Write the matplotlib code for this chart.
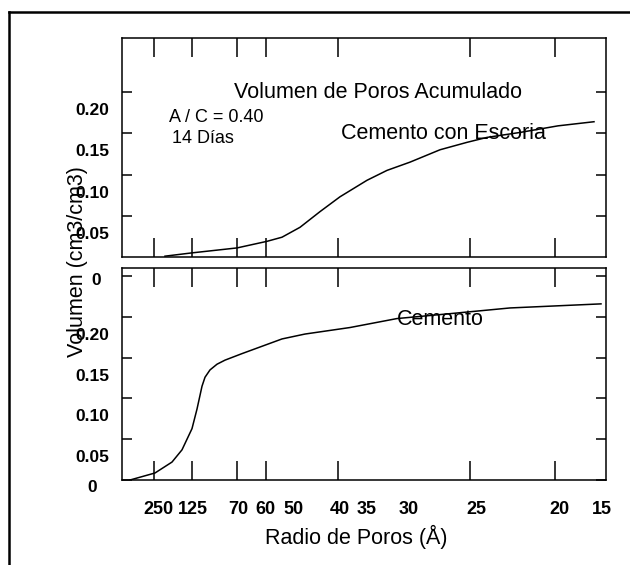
import matplotlib
matplotlib.use("Agg")
import matplotlib.pyplot as plt
import matplotlib.transforms as mtransforms
from matplotlib.lines import Line2D

plt.rcParams['font.family'] = ['Liberation Sans', 'DejaVu Sans']

# x axis is a non-uniform pore radius scale, kept as a position (0..484)
radio_labels = ["250", "125", "70", "60", "50", "40", "35", "30", "25", "20", "15"]
radio_label_pos = [36, 71, 116, 143, 172, 218, 245, 287, 354, 437, 480]
radio_tick_pos = [32, 70, 115, 144, 172, 216, 245, 287, 348, 433]

# Cemento con Escoria (top panel)
escoria_x = [43, 70, 115, 145, 160, 178, 198, 218, 245, 265, 288, 318, 345, 365, 398, 436, 472]
escoria_y = [0.001, 0.005, 0.011, 0.019, 0.024, 0.036, 0.055, 0.073, 0.093, 0.105,
             0.115, 0.130, 0.139, 0.145, 0.151, 0.159, 0.164]

# Cemento (bottom panel)
cemento_x = [8, 33, 50, 60, 70, 75, 80, 83, 88, 95, 103, 120, 140, 160, 183, 228, 275, 328, 388, 479]
cemento_y = [0.0, 0.0086, 0.022, 0.037, 0.063, 0.087, 0.115, 0.126, 0.135, 0.142, 0.147, 0.155,
             0.164, 0.173, 0.179, 0.187, 0.198, 0.204, 0.211, 0.216]

top_yticks = [0.05, 0.10, 0.15, 0.20]
top_ylabels = ["0.05", "0.10", "0.15", "0.20"]
bot_yticks = [0.0, 0.05, 0.10, 0.15, 0.20, 0.25]
bot_ylabels = ["0", "0.05", "0.10", "0.15", "0.20", "0"]

fig = plt.figure(figsize=(6.3, 5.65), dpi=100)

# outer frame (left and top only, scan is cropped)
fig.add_artist(Line2D([8.5/630, 1.0], [1-11.5/565, 1-11.5/565], transform=fig.transFigure, color='black', lw=1.8))
fig.add_artist(Line2D([8.5/630, 8.5/630], [0, 1-11.5/565], transform=fig.transFigure, color='black', lw=1.8))

ax1 = fig.add_axes([122/630, 1-257/565, 484/630, 219/565])
ax2 = fig.add_axes([122/630, 1-480/565, 484/630, 212/565])

ax1.plot(escoria_x, escoria_y, color='black', lw=1.1)
ax2.plot(cemento_x, cemento_y, color='black', lw=1.1)

ax1.set_ylim(0, 0.2655)
ax2.set_ylim(0, 0.260)

for ax in (ax1, ax2):
    ax.set_xlim(0, 484)
    for s in ax.spines.values():
        s.set_linewidth(1.1)
    ax.set_xticks(radio_tick_pos, minor=True)
    ax.tick_params(axis='x', which='minor', direction='in', length=14, width=1.1, top=True, bottom=True)
    ax.tick_params(axis='x', which='major', length=0)
    ax.tick_params(axis='y', which='both', direction='in', length=7, width=1.1, left=True, right=True)

ax1.set_xticks(radio_label_pos)
ax1.set_xticklabels([])
ax2.set_xticks(radio_label_pos)
ax2.set_xticklabels(radio_labels, fontsize=13, fontweight='bold')
ax2.tick_params(axis='x', which='major', pad=15)

ax1.set_yticks(top_yticks)
ax1.set_yticklabels(top_ylabels, fontsize=12.5, fontweight='bold')
ax2.set_yticks(bot_yticks)
ax2.set_yticklabels(bot_ylabels, fontsize=12.5, fontweight='bold')
ax1.tick_params(axis='y', pad=9)
ax2.tick_params(axis='y', pad=9)

# scanned labels sit below their ticks (shifts in pixels)
for lab in ax1.get_yticklabels():
    lab.set_transform(lab.get_transform() + mtransforms.ScaledTranslation(0, -17/100, fig.dpi_scale_trans))
bot_shift = [(-12, -6), (0, -17), (0, -17), (0, -17), (0, -17), (-8, -3)]
for lab, (dx, dy) in zip(ax2.get_yticklabels(), bot_shift):
    lab.set_transform(lab.get_transform() + mtransforms.ScaledTranslation(dx/100, dy/100, fig.dpi_scale_trans))

ax1.text(0.529, 0.749, "Volumen de Poros Acumulado", transform=ax1.transAxes,
         ha='center', va='center', fontsize=15.5)
ax1.text(0.097, 0.635, "A / C = 0.40", transform=ax1.transAxes, ha='left', va='center', fontsize=13)
ax1.text(0.103, 0.543, "14 Días", transform=ax1.transAxes, ha='left', va='center', fontsize=13)
ax1.text(0.4525, 0.566, "Cemento con Escoria", transform=ax1.transAxes, ha='left', va='center', fontsize=15.5)
ax2.text(0.568, 0.759, "Cemento", transform=ax2.transAxes, ha='left', va='center', fontsize=15.5)

fig.text(77/630, 1-262/565, "Volumen (cm3/cm3)", rotation=90, ha='center', va='center', fontsize=15.5)
fig.text(356/630, 1-537/565, "Radio de Poros (Å)", ha='center', va='center', fontsize=15.5)

fig.savefig("out.png", dpi=100)
